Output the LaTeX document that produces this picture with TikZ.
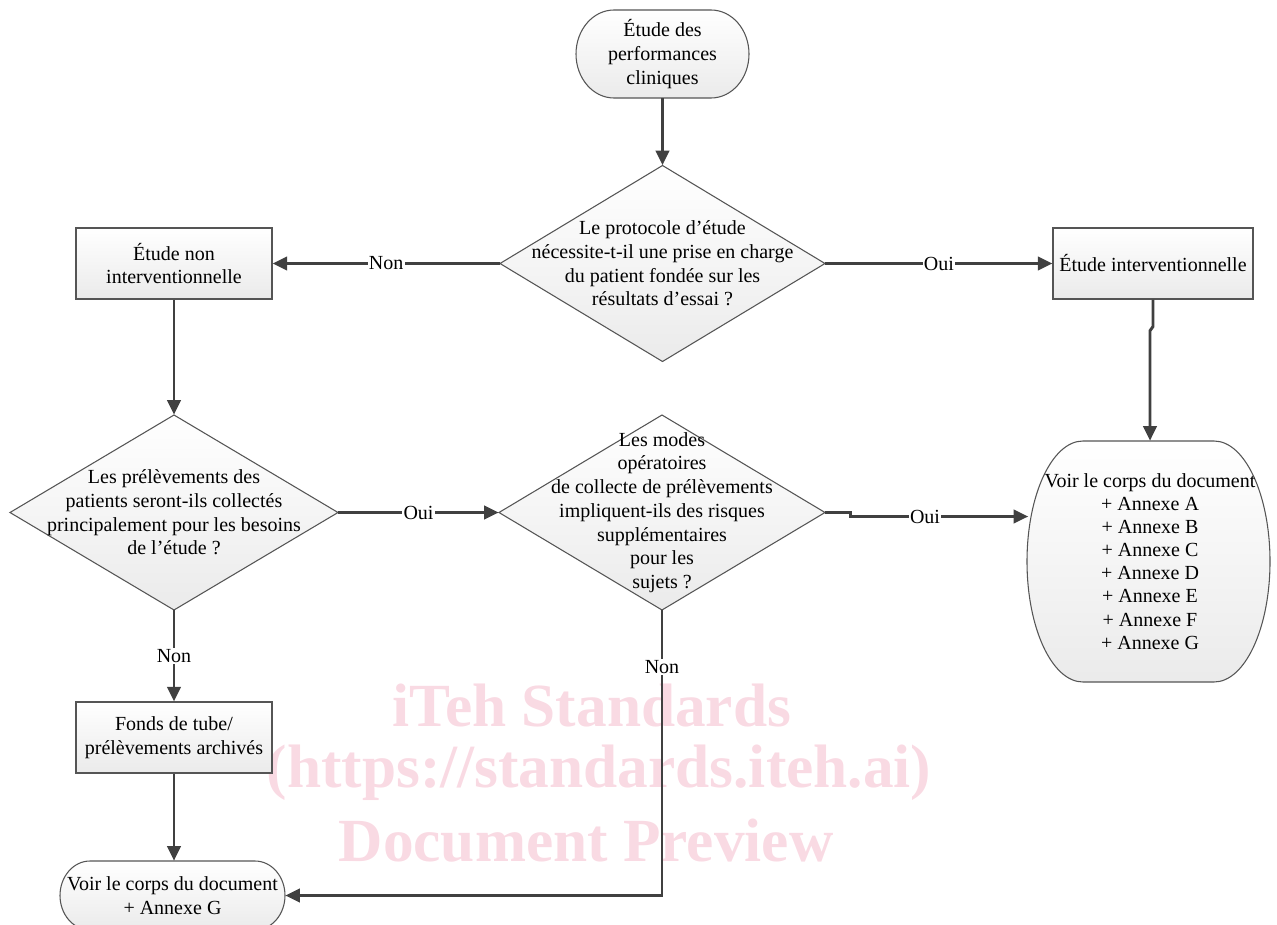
\documentclass[tikz,border=0pt]{standalone}
\usepackage{fontspec}
\setmainfont{Liberation Serif}
\usetikzlibrary{arrows.meta,calc}
\definecolor{connc}{RGB}{64,64,64}
\definecolor{edgec}{RGB}{85,85,85}
\definecolor{wmc}{RGB}{249,218,227}
\tikzset{
  txt/.style={font=\fontsize{15}{17.8}\selectfont, align=center, inner sep=0pt, text=black},
  shapefill/.style={draw=edgec, line width=0.8pt, top color=white, bottom color=black!8},
  boxst/.style={shapefill, txt, rectangle},
  conn/.style={draw=connc, line width=2.2pt, -{Triangle[length=11pt,width=10pt]}},
  lbl/.style={fill=white, font=\fontsize{15}{17}\selectfont, inner sep=1pt, text=black},
  wmtext/.style={text=wmc, font=\fontsize{46}{50}\selectfont\bfseries},
}
\newcommand\myoval[5]{%
  \pgfmathsetmacro\oL{#1-#3/2}\pgfmathsetmacro\oR{#1+#3/2}%
  \pgfmathsetmacro\oT{#2-#4/2}\pgfmathsetmacro\oB{#2+#4/2}%
  \pgfmathsetmacro\oLi{\oL+#5}\pgfmathsetmacro\oRi{\oR-#5}%
  \pgfmathsetmacro\oKx{0.5523*#5}\pgfmathsetmacro\oKy{0.5523*#4/2}%
  \path[shapefill] (\oLi,\oT) -- (\oRi,\oT)
    .. controls (\oRi+\oKx,\oT) and (\oR,#2-\oKy) .. (\oR,#2)
    .. controls (\oR,#2+\oKy) and (\oRi+\oKx,\oB) .. (\oRi,\oB)
    -- (\oLi,\oB)
    .. controls (\oLi-\oKx,\oB) and (\oL,#2+\oKy) .. (\oL,#2)
    .. controls (\oL,#2-\oKy) and (\oLi-\oKx,\oT) .. cycle;}
\newcommand\mydiamond[4]{%
  \path[shapefill] (#1,#2-#4/2) -- (#1+#3/2,#2) -- (#1,#2+#4/2) -- (#1-#3/2,#2) -- cycle;}
\begin{document}
\begin{tikzpicture}[x=0.75pt,y=-0.75pt]
\useasboundingbox (0,0) rectangle (1277,924);
\clip (0,0) rectangle (1277,924);
% watermark
\node[wmtext] (wm1) at (592,706) {iTeh Standards};
\node[wmtext] (wm2) at (599,773) {(https://standards.iteh.ai)};
\node[wmtext] (wm3) at (586,841) {Document Preview};
% shapes
\myoval{662.5}{54}{173}{88}{38}
\mydiamond{662.5}{263.5}{325}{196}
\mydiamond{174}{512.5}{328}{195}
\mydiamond{662}{512.5}{326}{195}
\myoval{1148.5}{561.5}{243}{241}{56}
\myoval{172.5}{895.5}{225}{69}{30}
% text nodes
\node[txt, minimum width=129.75pt, minimum height=66pt] (start) at (662.5,54) {Étude des\\performances\\cliniques};
\node[txt, minimum width=243.75pt, minimum height=147pt] (d1) at (662.5,263.5) {Le protocole d’étude\\nécessite-t-il une prise en charge\\du patient fondée sur les\\résultats d’essai ?};
\node[boxst, minimum width=147pt, minimum height=53.25pt] (b1) at (174,263.5) {Étude non\\interventionnelle};
\node[boxst, minimum width=150pt, minimum height=53.25pt] (b2) at (1153,263.5) {Étude interventionnelle};
\node[txt, minimum width=246pt, minimum height=146.25pt] (d2) at (174,512.5) {Les prélèvements des\\patients seront-ils collectés\\principalement pour les besoins\\de l’étude ?};
\node[txt, minimum width=244.5pt, minimum height=146.25pt] (d3) at (662,512.5) {Les modes\\opératoires\\de collecte de prélèvements\\impliquent-ils des risques\\supplémentaires\\pour les\\sujets ?};
\node[txt, minimum width=182.25pt, minimum height=180.75pt, font=\fontsize{15}{17.3}\selectfont] (big) at (1150,561.5) {Voir le corps du document\\+ Annexe A\\+ Annexe B\\+ Annexe C\\+ Annexe D\\+ Annexe E\\+ Annexe F\\+ Annexe G};
\node[boxst, minimum width=147pt, minimum height=53.25pt] (b3) at (174,737.5) {Fonds de tube/\\prélèvements archivés};
\node[txt, minimum width=168.75pt, minimum height=51.75pt] (bot) at (172.5,895.5) {Voir le corps du document\\+ Annexe G};
% connectors
\draw[conn] (start.south) -- (d1.north);
\draw[conn] (d1.west) -- node[lbl]{Non} (b1.east);
\draw[conn] (d1.east) -- node[lbl]{Oui} (b2.west);
\draw[conn] (b1.south) -- (d2.north);
\draw[conn] (d2.east) -- node[lbl]{Oui} (d3.west);
\draw[conn] (d3.east) -- ++(25,0) -- ++(0,4) -- node[lbl, pos=0.42]{Oui} ([yshift=-3pt]d3.east -| big.west);
\draw[conn] (b2.south) -- ++(0,27) -- ($(big.north)+(0,-110)$) -- (big.north);
\draw[conn] (d2.south) -- node[lbl]{Non} (b3.north);
\draw[conn] (b3.south) -- (b3.south |- bot.north);
\draw[conn] (d3.south) |- node[lbl, pos=0.1]{Non} (bot.east);
\end{tikzpicture}
\end{document}
